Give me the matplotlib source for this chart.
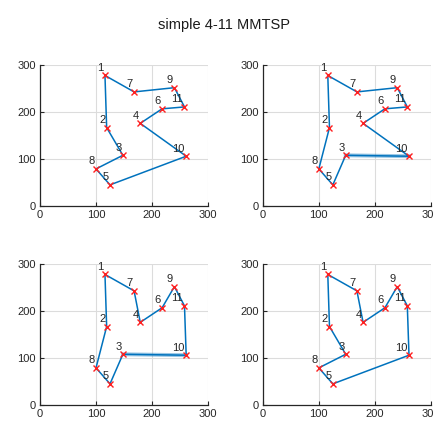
"""Four candidate routes for the simple 4-11 MMTSP instance."""

import matplotlib
matplotlib.use('Agg')
import matplotlib.pyplot as plt

# city coordinates, numbered 1..11
city_x = [116, 119, 148, 179, 125, 218, 168, 100, 240, 261, 258]
city_y = [278, 167, 108, 176, 45, 207, 243, 79, 252, 106, 211]

# visiting order of each solution (closed tours)
routes = [
    [1, 7, 9, 11, 6, 4, 10, 5, 8, 3, 2, 1],
    [1, 7, 9, 11, 6, 4, 10, 3, 5, 8, 2, 1],
    [1, 7, 4, 6, 9, 11, 10, 3, 5, 8, 2, 1],
    [1, 7, 4, 6, 9, 11, 10, 5, 8, 3, 2, 1],
]

ticks = [0, 100, 200, 300]
title = 'simple 4-11 MMTSP'

plt.rcParams['font.family'] = ['Liberation Sans', 'DejaVu Sans']

line_color = '#0072BD'
text_color = '#262626'

fig = plt.figure(figsize=(4.33, 4.23), dpi=100)
fig.text(0.517, 0.941, title, ha='center', va='center', fontsize=10.5,
         color='#1a1a1a')

lefts = [0.0924, 0.607]
bottoms = [0.513, 0.0426]
w, h = 0.388, 0.333

for k, route in enumerate(routes):
    ax = fig.add_axes([lefts[k % 2], bottoms[k // 2], w, h])
    xs = [city_x[i - 1] for i in route]
    ys = [city_y[i - 1] for i in route]
    ax.plot(xs, ys, color=line_color, lw=1.1, zorder=2)
    # the 10-3 leg is travelled both ways, draw it heavier
    for a, b in zip(route[:-1], route[1:]):
        if {a, b} == {3, 10}:
            ax.plot([city_x[a - 1], city_x[b - 1]],
                    [city_y[a - 1], city_y[b - 1]],
                    color=line_color, lw=2.8, alpha=0.4, zorder=2)
    ax.plot(city_x, city_y, linestyle='none', marker='x', color='#ff2020',
            ms=4.5, mew=1.0, zorder=3)
    for n, (x, y) in enumerate(zip(city_x, city_y), start=1):
        ax.annotate(str(n), (x, y), xytext=(-1.0, 1.8),
                    textcoords='offset points', ha='right', va='bottom',
                    fontsize=8, color=text_color, zorder=4)

    ax.set_xlim(0, 300)
    ax.set_ylim(0, 300)
    ax.set_xticks(ticks)
    ax.set_yticks(ticks)
    ax.grid(True, color='#dcdcdc', lw=0.8)
    ax.set_axisbelow(True)
    for side in ['top', 'right']:
        ax.spines[side].set_visible(False)
    for side in ['left', 'bottom']:
        ax.spines[side].set_color('#262626')
        ax.spines[side].set_linewidth(0.9)
    ax.tick_params(direction='in', length=3, width=0.8, labelsize=8,
                   colors=text_color, pad=3)

fig.savefig('out.png', dpi=100)
